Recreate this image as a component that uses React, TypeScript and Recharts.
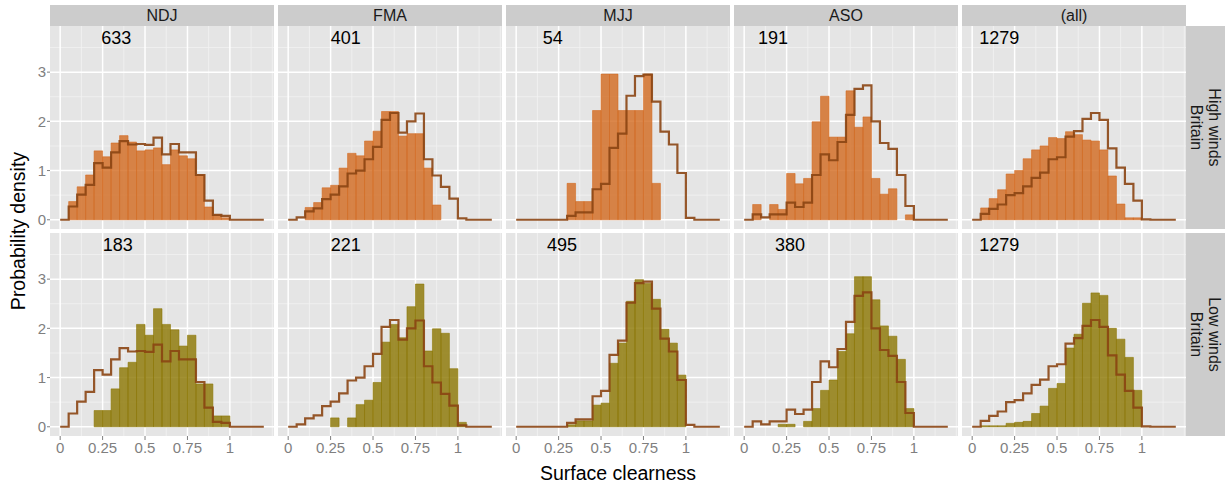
import React from "react";
import {
  CartesianGrid,
  ComposedChart,
  Line,
  ReferenceArea,
  ReferenceDot,
  XAxis,
  YAxis,
} from "recharts";

// histogram bins: width 0.05 on surface clearness, 0 .. 1.2
const binEdges = [
  0, 0.05, 0.1, 0.15, 0.2, 0.25, 0.3, 0.35, 0.4, 0.45, 0.5, 0.55, 0.6, 0.65, 0.7, 0.75, 0.8,
  0.85, 0.9, 0.95, 1, 1.05, 1.1, 1.15, 1.2,
];

const seasons = ["NDJ", "FMA", "MJJ", "ASO", "(all)"];
const windGroups = [
  ["High winds", "Britain"],
  ["Low winds", "Britain"],
];

// season-wide density (step outline), same in both wind rows
const ndjStep = [0, 0.27, 0.51, 0.71, 1.15, 1.06, 1.37, 1.6, 1.53, 1.54, 1.52, 1.67, 1.33, 1.54, 1.37, 1.37, 0.91, 0.39, 0.1, 0.08, 0, 0, 0, 0];
const fmaStep = [0, 0.05, 0.17, 0.23, 0.42, 0.51, 0.68, 0.94, 1.0, 1.23, 1.48, 2.03, 2.17, 1.77, 2.0, 2.16, 1.23, 0.9, 0.67, 0.43, 0.03, 0, 0, 0];
const mjjStep = [0, 0, 0, 0, 0, 0, 0.08, 0.15, 0.15, 0.62, 0.73, 1.46, 1.75, 2.52, 2.92, 2.95, 2.4, 1.79, 1.53, 0.95, 0.04, 0, 0, 0];
const asoStep = [0, 0.11, 0.05, 0.11, 0.11, 0.35, 0.26, 0.35, 0.91, 1.33, 1.21, 1.58, 2.13, 2.66, 2.73, 2.0, 1.56, 1.44, 0.91, 0.28, 0, 0, 0, 0];
const allStep = [0, 0.12, 0.22, 0.31, 0.5, 0.54, 0.68, 0.85, 0.96, 1.23, 1.27, 1.69, 1.8, 2.05, 2.17, 2.03, 1.45, 1.06, 0.73, 0.39, 0.01, 0, 0, 0];

// high-wind days
const ndjHigh = [0, 0.37, 0.67, 0.91, 1.4, 1.28, 1.56, 1.71, 1.58, 1.4, 1.42, 1.46, 1.12, 1.42, 1.3, 1.24, 0.91, 0.26, 0.1, 0.04, 0, 0, 0, 0];
const fmaHigh = [0, 0, 0.25, 0.35, 0.65, 0.7, 1.05, 1.35, 1.3, 1.6, 1.8, 2.2, 2.2, 1.7, 1.75, 1.75, 1.05, 0.3, 0, 0, 0, 0, 0, 0];
const mjjHigh = [0, 0, 0, 0, 0, 0, 0.74, 0.37, 0.37, 2.22, 2.96, 2.96, 2.22, 2.22, 2.22, 2.96, 0.74, 0, 0, 0, 0, 0, 0, 0];
const asoHigh = [0, 0.31, 0, 0.31, 0.21, 0.94, 0.73, 0.84, 1.99, 2.51, 1.68, 1.68, 2.62, 1.88, 2.09, 0.84, 0.52, 0.63, 0, 0.1, 0, 0, 0, 0];
const allHigh = [0, 0.24, 0.43, 0.61, 0.93, 1.0, 1.24, 1.42, 1.5, 1.67, 1.65, 1.79, 1.73, 1.62, 1.6, 1.42, 0.89, 0.32, 0.04, 0.04, 0, 0, 0, 0];

// low-wind days
const ndjLow = [0, 0, 0, 0, 0.33, 0.33, 0.77, 1.2, 1.31, 2.08, 1.86, 2.4, 2.08, 1.97, 1.64, 1.86, 0.87, 0.87, 0.22, 0.22, 0, 0, 0, 0];
const fmaLow = [0, 0, 0, 0, 0, 0.18, 0, 0.18, 0.45, 0.54, 0.9, 1.72, 2.08, 1.81, 2.44, 2.9, 1.54, 1.99, 1.9, 1.18, 0.09, 0, 0, 0];
const mjjLow = [0, 0, 0, 0, 0, 0, 0.04, 0.12, 0.12, 0.44, 0.48, 1.29, 1.7, 2.55, 2.99, 2.91, 2.59, 1.98, 1.7, 1.05, 0, 0, 0, 0];
const asoLow = [0, 0, 0, 0, 0.05, 0.05, 0, 0.11, 0.37, 0.74, 0.95, 1.53, 1.89, 3.05, 3.05, 2.58, 2.05, 1.84, 1.37, 0.37, 0, 0, 0, 0];
const allLow = [0, 0.02, 0.02, 0.02, 0.07, 0.09, 0.11, 0.27, 0.42, 0.78, 0.88, 1.6, 1.88, 2.51, 2.72, 2.67, 2.0, 1.78, 1.41, 0.74, 0, 0, 0, 0];

const highCounts = [633, 401, 54, 191, 1279];
const lowCounts = [183, 221, 495, 380, 1279];
// where the day count sits in each panel (data units)
const highLabelX = [0.33, 0.34, 0.215, 0.17, 0.16];
const lowLabelX = [0.34, 0.34, 0.27, 0.27, 0.16];
const LABEL_Y = 3.7;

const xTicks = [0, 0.25, 0.5, 0.75, 1];
const xMinor = [0.125, 0.375, 0.625, 0.875, 1.125, 1.25];
const yTicks = [0, 1, 2, 3];
const yMinor = [0.5, 1.5, 2.5, 3.5];

const stepBySeason = [ndjStep, fmaStep, mjjStep, asoStep, allStep];
const barsByRow = [
  [ndjHigh, fmaHigh, mjjHigh, asoHigh, allHigh],
  [ndjLow, fmaLow, mjjLow, asoLow, allLow],
];
const countsByRow = [highCounts, lowCounts];
const labelXByRow = [highLabelX, lowLabelX];
const rowFill = ["#D2691E", "#8B7500"];

const X_DOMAIN: [number, number] = [-0.06, 1.26];
const Y_DOMAIN: [number, number] = [-0.1875, 3.9375];

const PANEL_W = 224;
const PANEL_H = 203;
const COL_LEFT = [50, 278, 506, 734, 962];
const ROW_TOP = [26, 233];
const Y_AXIS_W = 40;
const X_AXIS_H = 28;
const STRIP_TOP = 5;
const STRIP_H = 21;
const RIGHT_STRIP_X = 1186;
const RIGHT_STRIP_W = 39;

const FONT = '"Liberation Sans", Arial, Helvetica, sans-serif';
const AXIS_GREY = "#7F7F7F";
const TICK_FONT = 15;

function Panel({ row, col }: { row: number; col: number }) {
  const step = stepBySeason[col];
  const bars = barsByRow[row][col];
  const fill = rowFill[row];
  const data = binEdges.map((x, i) => ({ x, step: i < step.length ? step[i] : step[step.length - 1] }));
  const showY = col === 0;
  const showX = row === 1;
  const width = PANEL_W + (showY ? Y_AXIS_W : 0);
  const height = PANEL_H + (showX ? X_AXIS_H : 0);

  return (
    <div
      style={{
        position: "absolute",
        left: COL_LEFT[col] - (showY ? Y_AXIS_W : 0),
        top: ROW_TOP[row],
      }}
    >
      <ComposedChart
        width={width}
        height={height}
        data={data}
        margin={{ top: 0, right: 0, bottom: 0, left: 0 }}
      >
        <CartesianGrid
          fill="#E5E5E5"
          stroke="#F2F2F2"
          strokeWidth={0.8}
          verticalValues={xMinor}
          horizontalValues={yMinor}
        />
        <CartesianGrid
          stroke="#FFFFFF"
          strokeWidth={1.5}
          verticalValues={xTicks}
          horizontalValues={yTicks}
        />
        <XAxis
          type="number"
          dataKey="x"
          domain={X_DOMAIN}
          ticks={xTicks}
          interval={0}
          allowDataOverflow
          hide={!showX}
          height={X_AXIS_H}
          axisLine={false}
          tickLine={{ stroke: AXIS_GREY }}
          tickSize={4}
          tickMargin={2}
          tick={{ fill: AXIS_GREY, fontSize: TICK_FONT }}
          tickFormatter={(v) => String(v)}
        />
        <YAxis
          type="number"
          domain={Y_DOMAIN}
          ticks={yTicks}
          interval={0}
          allowDataOverflow
          hide={!showY}
          width={Y_AXIS_W}
          axisLine={false}
          tickLine={{ stroke: AXIS_GREY }}
          tickSize={3}
          tickMargin={1}
          tick={{ fill: AXIS_GREY, fontSize: TICK_FONT }}
        />
        {bars.map((v, i) =>
          v > 0 ? (
            <ReferenceArea
              key={i}
              x1={binEdges[i]}
              x2={binEdges[i + 1]}
              y1={0}
              y2={v}
              fill={fill}
              fillOpacity={0.8}
              stroke={fill}
              strokeOpacity={0.7}
              strokeWidth={0.8}
            />
          ) : null
        )}
        <Line
          type="stepAfter"
          dataKey="step"
          stroke="#8B4513"
          strokeWidth={2.2}
          strokeOpacity={0.9}
          dot={false}
          activeDot={false}
          isAnimationActive={false}
        />
        <ReferenceDot
          x={labelXByRow[row][col]}
          y={LABEL_Y}
          r={0}
          fill="none"
          stroke="none"
          label={{
            value: String(countsByRow[row][col]),
            position: "center",
            fill: "#000000",
            fontSize: 18,
          }}
        />
      </ComposedChart>
    </div>
  );
}

export default function App() {
  return (
    <div
      style={{
        position: "absolute",
        left: 0,
        top: 0,
        width: 1225,
        height: 485,
        background: "#FFFFFF",
        fontFamily: FONT,
        overflow: "hidden",
      }}
    >
      {seasons.map((s, col) => (
        <div
          key={s}
          style={{
            position: "absolute",
            left: COL_LEFT[col],
            top: STRIP_TOP,
            width: PANEL_W,
            height: STRIP_H,
            background: "#CCCCCC",
            color: "#1A1A1A",
            fontSize: 16,
            lineHeight: `${STRIP_H}px`,
            textAlign: "center",
          }}
        >
          {s}
        </div>
      ))}

      {windGroups.map((lines, row) => (
        <div
          key={row}
          style={{
            position: "absolute",
            left: RIGHT_STRIP_X,
            top: ROW_TOP[row],
            width: RIGHT_STRIP_W,
            height: PANEL_H,
            background: "#CCCCCC",
          }}
        >
          <div
            style={{
              position: "absolute",
              left: (RIGHT_STRIP_W - PANEL_H) / 2,
              top: (PANEL_H - RIGHT_STRIP_W) / 2,
              width: PANEL_H,
              height: RIGHT_STRIP_W,
              transform: "rotate(90deg)",
              display: "flex",
              flexDirection: "column",
              justifyContent: "center",
              alignItems: "center",
              color: "#1A1A1A",
              fontSize: 16,
              lineHeight: "18px",
            }}
          >
            {lines.map((t) => (
              <span key={t}>{t}</span>
            ))}
          </div>
        </div>
      ))}

      {[0, 1].map((row) =>
        seasons.map((s, col) => <Panel key={`${row}-${s}`} row={row} col={col} />)
      )}

      <div
        style={{
          position: "absolute",
          left: 18 - 150,
          top: 231 - 12,
          width: 300,
          height: 24,
          lineHeight: "24px",
          textAlign: "center",
          fontSize: 19.5,
          color: "#000000",
          transform: "rotate(-90deg)",
        }}
      >
        Probability density
      </div>
      <div
        style={{
          position: "absolute",
          left: 618 - 150,
          top: 473 - 12,
          width: 300,
          height: 24,
          lineHeight: "24px",
          textAlign: "center",
          fontSize: 19.5,
          color: "#000000",
        }}
      >
        Surface clearness
      </div>
    </div>
  );
}
